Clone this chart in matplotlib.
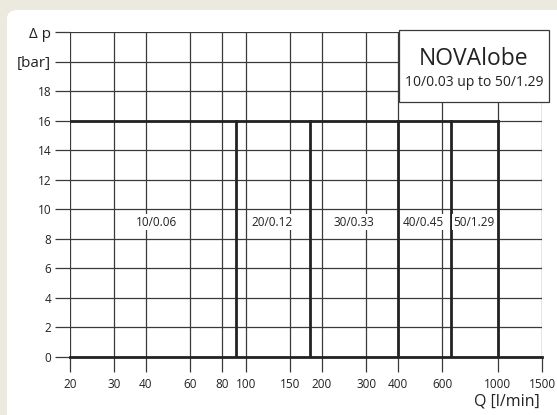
import numpy as np
import matplotlib.pyplot as plt
from matplotlib.patches import FancyBboxPatch, Rectangle

plt.rcParams['font.family'] = ['Open Sans', 'DejaVu Sans']

# donnees du diagramme
x_ticks = [20, 30, 40, 60, 80, 100, 150, 200, 300, 400, 600, 1000, 1500]
y_ticks = [0, 2, 4, 6, 8, 10, 12, 14, 16, 18, 20, 22]
y_labels = ['0', '2', '4', '6', '8', '10', '12', '14', '16', '18', '[bar]', '\u0394 p']
limites_q = [91, 180, 400, 650, 1000]   # debit max de chaque taille
p_max = 16
noms = ['10/0.06', '20/0.12', '30/0.33', '40/0.45', '50/1.29']
pos_noms = [44, 127, 268, 506, 804]
y_noms = 9.1

fig = plt.figure(figsize=(5.57, 4.15), dpi=100)
fig.patch.set_facecolor('#ECEADF')
# panneau blanc avec coin arrondi
fig.patches.append(FancyBboxPatch((7 / 557, -0.1), 1.1, (405 + 415 * 0.1) / 415,
                                  boxstyle='round,pad=0,rounding_size=0.02',
                                  transform=fig.transFigure, facecolor='white',
                                  edgecolor='none', zorder=-10))

ax = fig.add_axes([70 / 557, (415 - 356.7) / 415, 472.3 / 557, 324.7 / 415])
ax.set_facecolor('none')
ax.set_xscale('log')
ax.set_xlim(20, 1500)
ax.set_ylim(0, 22)

gris = '#3a3a3a'
for x in x_ticks:
    ax.axvline(x, color=gris, lw=0.9, zorder=1)
for y in y_ticks:
    ax.axhline(y, color=gris, lw=0.9, zorder=1)

# lignes epaisses : limites de chaque pompe
ax.plot([20, 1500], [0, 0], color='#222222', lw=2.0, zorder=3, clip_on=False)
ax.plot([20, limites_q[-1]], [p_max, p_max], color='#222222', lw=2.0, zorder=3)
for q in limites_q:
    ax.plot([q, q], [0, p_max], color='#222222', lw=2.0, zorder=3)

for nom, q in zip(noms, pos_noms):
    ax.text(q, y_noms, nom, ha='center', va='center', fontsize=8.5, color='#222222',
            bbox=dict(facecolor='white', edgecolor='none', pad=1.0), zorder=4)

ax.set_xticks(x_ticks)
ax.set_xticklabels([str(x) for x in x_ticks])
ax.minorticks_off()
ax.set_yticks(y_ticks)
ax.set_yticklabels(y_labels)
ax.tick_params(axis='both', length=10.5, width=0.9, color=gris, labelsize=8.5,
               labelcolor='#222222')
ax.tick_params(axis='x', pad=5)
ax.tick_params(axis='y', pad=3)
for lab in ax.get_yticklabels()[-2:]:
    lab.set_fontsize(11)
for s in ax.spines.values():
    s.set_visible(False)

# encadre du titre
ax.add_patch(Rectangle((0.6965, 0.785), 0.3175, 0.22, transform=ax.transAxes,
                       facecolor='white', edgecolor=gris, lw=0.9, zorder=5, clip_on=False))
ax.text(0.855, 0.918, 'NOVAlobe', transform=ax.transAxes, ha='center', va='center',
        fontsize=16.5, color='#222222', zorder=6)
ax.text(0.855, 0.845, '10/0.03 up to 50/1.29', transform=ax.transAxes, ha='center',
        va='center', fontsize=10, color='#222222', zorder=6)

fig.text(540 / 557, 1 - 401 / 415, 'Q [l/min]', ha='right', va='center',
         fontsize=11.5, color='#222222')

fig.savefig('out.png', dpi=100, facecolor=fig.get_facecolor())
